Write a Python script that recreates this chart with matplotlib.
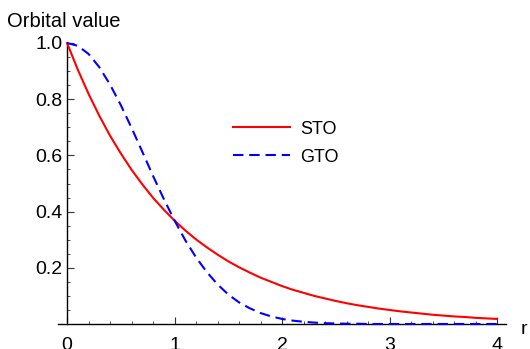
import matplotlib.pyplot as plt
from matplotlib.ticker import MultipleLocator, FixedLocator

plt.rcParams['font.family'] = ['Liberation Sans', 'DejaVu Sans']

# radial grid and orbital values
r = [0.0, 0.1, 0.2, 0.3, 0.4, 0.5, 0.6, 0.7, 0.8, 0.9,
     1.0, 1.1, 1.2, 1.3, 1.4, 1.5, 1.6, 1.7, 1.8, 1.9,
     2.0, 2.1, 2.2, 2.3, 2.4, 2.5, 2.6, 2.7, 2.8, 2.9,
     3.0, 3.1, 3.2, 3.3, 3.4, 3.5, 3.6, 3.7, 3.8, 3.9, 4.0]
sto = [1.000, 0.905, 0.819, 0.741, 0.670, 0.607, 0.549, 0.497, 0.449, 0.407,
       0.368, 0.333, 0.301, 0.273, 0.247, 0.223, 0.202, 0.183, 0.165, 0.150,
       0.135, 0.122, 0.111, 0.100, 0.091, 0.082, 0.074, 0.067, 0.061, 0.055,
       0.050, 0.045, 0.041, 0.037, 0.033, 0.030, 0.027, 0.025, 0.022, 0.020, 0.018]
gto = [1.000, 0.990, 0.961, 0.914, 0.852, 0.779, 0.698, 0.613, 0.527, 0.445,
       0.368, 0.298, 0.237, 0.185, 0.141, 0.105, 0.077, 0.056, 0.039, 0.027,
       0.018, 0.012, 0.008, 0.005, 0.003, 0.002, 0.001, 0.001, 0.000, 0.000,
       0.000, 0.000, 0.000, 0.000, 0.000, 0.000, 0.000, 0.000, 0.000, 0.000, 0.000]

xticks = [0, 1, 2, 3, 4]
yticks = [0.2, 0.4, 0.6, 0.8, 1.0]
ytick_labels = ['0.2', '0.4', '0.6', '0.8', '1.0']

fig = plt.figure(figsize=(5.3, 3.49), dpi=100)
ax = fig.add_axes([0.1093, 0.0716, 0.8447, 0.8052])

ax.plot(r, sto, color='#ff0000', lw=1.5, label='STO', clip_on=False, zorder=3)
ax.plot(r, gto, color='#0000ff', lw=1.5, ls=(0, (5, 2.8)), label='GTO',
        clip_on=False, zorder=3)

ax.set_xlim(-0.085, 4.08)
ax.set_ylim(0, 1.0)

for s in ['top', 'right']:
    ax.spines[s].set_visible(False)
ax.spines['left'].set_position(('data', 0))
ax.spines['bottom'].set_position(('data', 0))
ax.spines['bottom'].set_bounds(-0.085, 4.08)
for s in ['left', 'bottom']:
    ax.spines[s].set_linewidth(1.0)
    ax.spines[s].set_color('black')

ax.xaxis.set_major_locator(FixedLocator(xticks))
ax.xaxis.set_minor_locator(MultipleLocator(0.2))
ax.yaxis.set_major_locator(FixedLocator(yticks))
ax.yaxis.set_minor_locator(MultipleLocator(0.05))
ax.set_yticklabels(ytick_labels)
ax.tick_params(which='major', direction='in', length=5, width=0.8,
               labelsize=14, color='#333333')
ax.tick_params(which='minor', direction='in', length=2.5, width=0.6,
               color='#333333')
ax.tick_params(axis='x', pad=9)
ax.tick_params(axis='y', pad=3.5)

fig.text(0.013, 0.938, 'Orbital value', fontsize=14.5, va='center', ha='left')
fig.text(0.982, 0.055, 'r', fontsize=14, va='center', ha='left')

ax.legend(loc='upper left', bbox_to_anchor=(0.391, 0.724), frameon=False,
          borderaxespad=0, borderpad=0, fontsize=13, handlelength=3.15,
          handletextpad=0.55, labelspacing=0.62)

fig.savefig('out.png', dpi=100)
